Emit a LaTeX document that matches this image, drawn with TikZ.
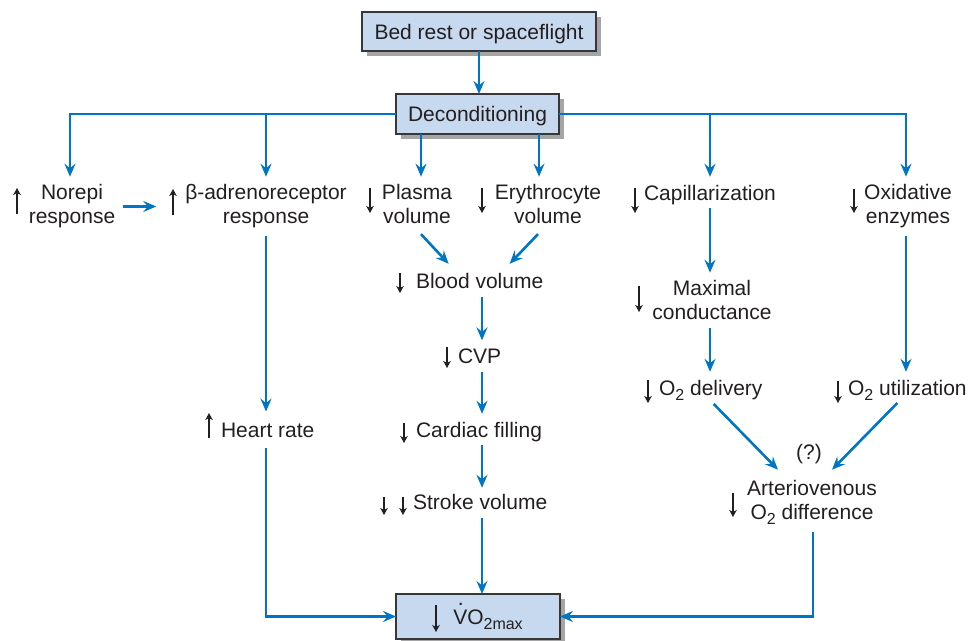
\documentclass[tikz,border=0pt]{standalone}
\usepackage{fontspec}
\setmainfont{Liberation Sans}
\usetikzlibrary{arrows.meta,shadows}

\definecolor{flowblue}{RGB}{0,117,196}
\definecolor{boxfill}{RGB}{198,217,239}
\definecolor{boxline}{RGB}{55,55,55}
\definecolor{ink}{RGB}{35,31,32}
\definecolor{shade}{RGB}{165,165,165}

% lowered, smaller subscript (O2, 2max)
\newcommand{\lowsub}[1]{\raisebox{-5pt}{\fontsize{16}{16}\selectfont #1}}
% V with a dot above
\newcommand{\vdotted}{\makebox[0pt][l]{\hspace{4.6pt}\raisebox{19pt}{.}}V}

\begin{document}
\begin{tikzpicture}[x=1pt,y=-1pt,
  every node/.style={font=\fontsize{21}{24}\selectfont, text=ink, inner sep=0pt, outer sep=0pt},
  txt/.style={anchor=base west},
  multi/.style={anchor=north, align=center},
  stepbox/.style={draw=boxline, line width=1.4pt, fill=boxfill, text height=15pt, text depth=0pt,
    drop shadow={shadow xshift=5pt, shadow yshift=-5pt, fill=shade, opacity=1}},
  flow/.style={draw=flowblue, line width=2.6pt, -{Stealth[length=13pt,width=11pt,inset=4.5pt]},
    shorten <=8pt, shorten >=8pt},
  sym/.style={draw=ink, line width=1.4pt, -{Stealth[length=7pt,width=7.5pt,inset=2pt]}},
]
\useasboundingbox (0,0) rectangle (969,640);

% boxes
\node[stepbox, minimum width=234pt, minimum height=39pt] (b1) at (479,31.5) {Bed rest or spaceflight};
\node[stepbox, minimum width=163pt, minimum height=40pt] (b2) at (477.5,114) {Deconditioning};
\node[stepbox, minimum width=164pt, minimum height=45pt] (vo2) at (478,616.5) {\hspace*{20pt}\vdotted O\lowsub{2max}};

% labels
\node[multi] (norepi) at (72,184.7) {Norepi\\response};
\node[multi] (beta) at (266,184.7) {β-adrenoreceptor\\response};
\node[multi] (plasma) at (417,184.7) {Plasma\\volume};
\node[multi] (eryth) at (548,184.7) {Erythrocyte\\volume};
\node[txt] (capil) at (644,200) {Capillarization};
\node[multi] (oxid) at (908,184.7) {Oxidative\\enzymes};
\node[txt] (blood) at (416,288) {Blood volume};
\node[multi] (maxc) at (712,280.7) {Maximal\\conductance};
\node[txt] (cvp) at (458,363) {CVP};
\node[txt] (o2del) at (659,395) {O\lowsub{2} delivery};
\node[txt] (o2use) at (848,395) {O\lowsub{2} utilization};
\node[txt] (heart) at (221,437) {Heart rate};
\node[txt] (filling) at (416,437) {Cardiac filling};
\node[txt] (stroke) at (413,509) {Stroke volume};
\node[anchor=base] (query) at (809,459) {(?)};
\node[multi] (avdiff) at (812,480.7) {Arteriovenous\\O\lowsub{2} difference};

% increase / decrease marks
\foreach \x/\a/\b in {370/188/213, 482/188/213, 635/188/213, 854/189/213, 400/273/293,
    639/286/312, 447/347/368, 648/380/403, 838/381/403, 404/423/443, 384/497/515,
    403/497/515, 733/493/517, 436/605/632}
  \draw[sym] (\x,\a) -- (\x,\b);
\foreach \x/\a/\b in {17/188/214, 173/189/215, 209/413/438}
  \draw[sym] (\x,\b) -- (\x,\a);

% connector columns
\coordinate (colN) at (70,0);
\coordinate (colA) at (266,0);
\coordinate (colP) at (421,0);
\coordinate (colR) at (539,0);
\coordinate (colC) at (482,0);
\coordinate (colD) at (710,0);
\coordinate (colE) at (906,0);
\coordinate (colV) at (813,0);

% top
\draw[flow, shorten <=0pt, shorten >=0pt] (b1.south) -- (b1.south |- b2.north);
\draw[flow, shorten <=0pt] (b2.west) -| (norepi.north -| colN);
\draw[flow, shorten <=0pt] (b2.west) -| (beta.north -| colA);
\draw[flow, shorten <=0pt] (b2.south -| colP) -- (plasma.north -| colP);
\draw[flow, shorten <=0pt] (b2.south -| colR) -- (eryth.north -| colR);
\draw[flow, shorten <=0pt] (b2.east) -| (capil.north -| colD);
\draw[flow, shorten <=0pt] (b2.east) -| (oxid.north -| colE);

% heart rate branch
\draw[flow, shorten >=29pt] (norepi.east) -- (beta.west);
\draw[flow, shorten >=11pt] (beta.south -| colA) -- (heart.north -| colA);
\draw[flow, shorten <=11pt, shorten >=0pt] (heart.south -| colA) |- (vo2.west);

% volume branch
\draw[flow, shorten <=0pt, shorten >=0pt] ([shift={(4,10)}]plasma.south) -- ([shift={(-31,-9)}]blood.north);
\draw[flow, shorten <=0pt, shorten >=0pt] ([shift={(-10,10)}]eryth.south) -- ([shift={(30,-9)}]blood.north);
\draw[flow, shorten <=9pt] (blood.south -| colC) -- (cvp.north -| colC);
\draw[flow, shorten <=9pt] (cvp.south -| colC) -- (filling.north -| colC);
\draw[flow, shorten <=4pt, shorten >=6pt] (filling.south -| colC) -- (stroke.north -| colC);
\draw[flow, shorten <=9pt, shorten >=0pt] (stroke.south -| colC) -- (vo2.north -| colC);

% oxygen branch
\draw[flow, shorten <=4pt] (capil.south -| colD) -- (maxc.north -| colD);
\draw[flow] (maxc.south -| colD) -- (o2del.north -| colD);
\draw[flow] (oxid.south -| colE) -- (o2use.north -| colE);
\draw[flow, shorten <=0pt, shorten >=0pt] ([shift={(3,4)}]o2del.south) -- ([shift={(-34,-11)}]avdiff.north);
\draw[flow, shorten <=0pt, shorten >=0pt] ([shift={(-10,3)}]o2use.south) -- ([shift={(20,-11)}]avdiff.north);
\draw[flow, shorten <=7pt, shorten >=0pt] (avdiff.south -| colV) |- (vo2.east);
\end{tikzpicture}
\end{document}
